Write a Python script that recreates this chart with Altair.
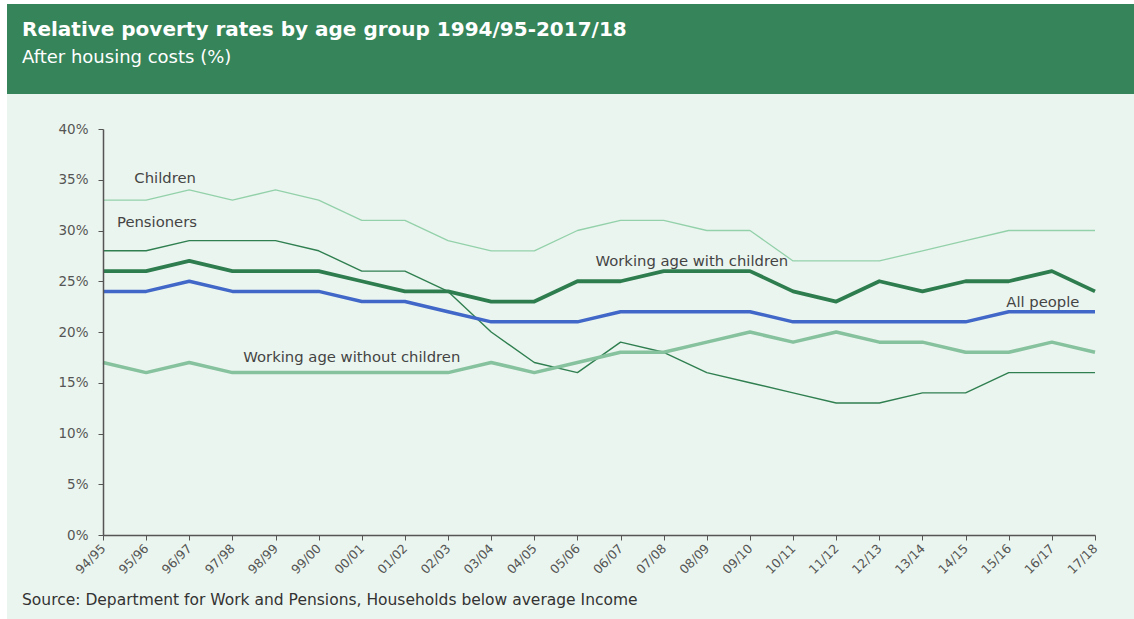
import altair as alt
import pandas as pd

years = ["94/95", "95/96", "96/97", "97/98", "98/99", "99/00", "00/01", "01/02",
         "02/03", "03/04", "04/05", "05/06", "06/07", "07/08", "08/09", "09/10",
         "10/11", "11/12", "12/13", "13/14", "14/15", "15/16", "16/17", "17/18"]

children = [33, 33, 34, 33, 34, 33, 31, 31, 29, 28, 28, 30, 31, 31, 30, 30, 27, 27, 27, 28, 29, 30, 30, 30]
pensioners = [28, 28, 29, 29, 29, 28, 26, 26, 24, 20, 17, 16, 19, 18, 16, 15, 14, 13, 13, 14, 14, 16, 16, 16]
wa_with = [26, 26, 27, 26, 26, 26, 25, 24, 24, 23, 23, 25, 25, 26, 26, 26, 24, 23, 25, 24, 25, 25, 26, 24]
all_people = [24, 24, 25, 24, 24, 24, 23, 23, 22, 21, 21, 21, 22, 22, 22, 22, 21, 21, 21, 21, 21, 22, 22, 22]
wa_without = [17, 16, 17, 16, 16, 16, 16, 16, 16, 17, 16, 17, 18, 18, 19, 20, 19, 20, 19, 19, 18, 18, 19, 18]

series_names = ["Children", "Pensioners", "Working age with children", "All people",
                "Working age without children"]
series_values = [children, pensioners, wa_with, all_people, wa_without]
series_colors = ["#93d1aa", "#2f7f50", "#2e7d4f", "#4168c8", "#86c29d"]
series_widths = [1.3, 1.4, 3.8, 3.5, 3.5]

y_ticks = [0, 5, 10, 15, 20, 25, 30, 35, 40]

# label annotations (anchored on data coordinates)
label_text = ["Children", "Pensioners", "Working age with children", "All people",
              "Working age without children"]
label_year = ["95/96", "94/95", "08/09", "16/17", "00/01"]
label_value = [35.1, 30.7, 26.9, 22.9, 17.4]
label_dx = [19, 54, -15, -9, -10]

rows = []
for name, vals, w in zip(series_names, series_values, series_widths):
    for yr, v in zip(years, vals):
        rows.append({"year": yr, "value": v, "series": name, "w": w})
df = pd.DataFrame(rows)

FONT = "DejaVu Sans"
W, H = 992, 406

x_scale = alt.Scale(type="point", padding=0, domain=years)
x_enc = alt.X("year:N", sort=years, scale=x_scale,
              axis=alt.Axis(title=None, labelAngle=-45, labelAlign="right", labelBaseline="middle",
                            labelFontSize=12.5, labelColor="#555555", labelFont=FONT,
                            domainColor="#555555", tickColor="#555555", tickSize=5,
                            domainWidth=1.5, labelPadding=6, zindex=1, labelOverlap=False))
y_enc = alt.Y("value:Q", scale=alt.Scale(domain=[0, 40], nice=False),
              axis=alt.Axis(title=None, values=y_ticks, labelExpr="datum.value + '%'",
                            labelFontSize=13.5, labelColor="#555555", labelFont=FONT,
                            domainColor="#555555", tickColor="#555555", tickSize=5,
                            domainWidth=1.5, labelPadding=10, grid=False, zindex=1))

one = pd.DataFrame({"a": [0]})
light_bg = alt.Chart(one).mark_rect(color="#ebf5ef").encode(
    x=alt.value(-96), x2=alt.value(1031), y=alt.value(-35), y2=alt.value(490))
header = alt.Chart(one).mark_rect(color="#35845a").encode(
    x=alt.value(-96), x2=alt.value(1031), y=alt.value(-125), y2=alt.value(-35))

title = alt.Chart(pd.DataFrame({"t": ["Relative poverty rates by age group 1994/95-2017/18"]})).mark_text(
    align="left", baseline="alphabetic", font=FONT, fontSize=20, fontWeight="bold", color="white"
).encode(text="t:N", x=alt.value(-81), y=alt.value(-93))
subtitle = alt.Chart(pd.DataFrame({"t": ["After housing costs (%)"]})).mark_text(
    align="left", baseline="alphabetic", font=FONT, fontSize=18, color="white"
).encode(text="t:N", x=alt.value(-81), y=alt.value(-66))
source = alt.Chart(pd.DataFrame({"t": ["Source: Department for Work and Pensions, Households below average Income"]})).mark_text(
    align="left", baseline="alphabetic", font=FONT, fontSize=15.5, color="#333333"
).encode(text="t:N", x=alt.value(-81), y=alt.value(476))

lines = alt.Chart(df).mark_line(strokeJoin="round").encode(
    x=x_enc, y=y_enc,
    color=alt.Color("series:N", scale=alt.Scale(domain=series_names, range=series_colors), legend=None),
    strokeWidth=alt.StrokeWidth("w:Q", scale=None),
    detail="series:N",
)

label_layers = []
for t, yr, v, dx in zip(label_text, label_year, label_value, label_dx):
    d = pd.DataFrame({"text": [t], "year": [yr], "value": [v]})
    label_layers.append(
        alt.Chart(d).mark_text(align="center", baseline="middle", font=FONT, fontSize=14.8,
                               color="#444444", dx=dx).encode(
            x=alt.X("year:N", sort=years, scale=x_scale),
            y=alt.Y("value:Q"),
            text="text:N",
        )
    )

chart = alt.layer(light_bg, header, lines, *label_layers, title, subtitle, source).properties(
    width=W, height=H,
    padding={"left": 103, "top": 129, "right": 39, "bottom": 84},
    autosize=alt.AutoSizeParams(type="none"),
    background="white",
).configure_view(stroke=None)

chart.save("out.html", embed_options={"renderer": "svg", "actions": False})
